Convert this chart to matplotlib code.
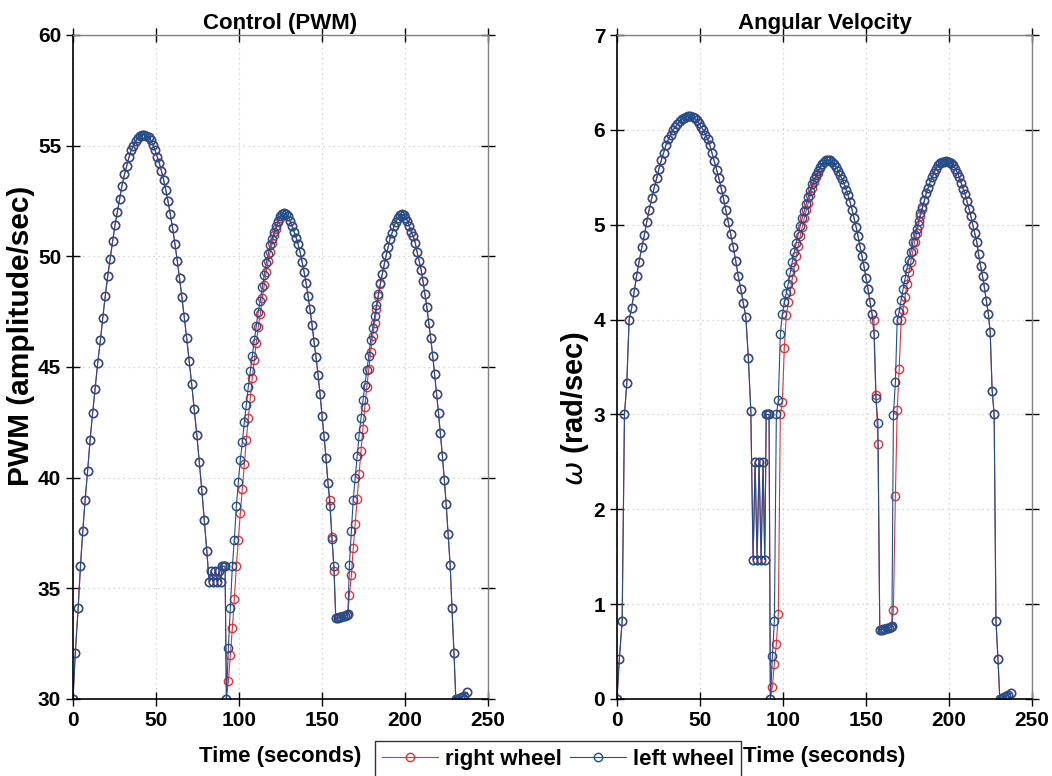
import matplotlib
matplotlib.use("Agg")
from matplotlib import pyplot as plt

plt.rcParams['font.family'] = ['Liberation Sans', 'DejaVu Sans']

# ---- arch 1 (both wheels identical) ----
t_arch1 = [0.0, 1.4, 3.1, 4.5, 5.9, 7.3, 8.8, 10.3, 11.8, 13.3, 14.9, 16.5, 17.9, 19.4, 20.9,
           22.4, 23.9, 25.3, 26.7, 28.1, 29.5, 31.0, 32.4, 33.8, 35.1, 36.4, 37.7, 39.0, 40.3,
           41.6, 42.9, 44.2, 45.5, 46.8, 48.1, 49.4, 50.7, 52.0, 53.3, 54.6, 55.9, 57.2, 58.6,
           60.0, 61.4, 62.8, 64.2, 65.6, 67.0, 68.5, 70.0, 71.5, 73.0, 74.6, 76.1, 77.6, 79.1, 80.6]
pwm_arch1 = [30.0, 32.1, 34.1, 36.0, 37.6, 39.0, 40.3, 41.7, 42.9, 44.0, 45.2, 46.2, 47.2, 48.2,
             49.1, 49.9, 50.7, 51.4, 52.0, 52.6, 53.2, 53.7, 54.1, 54.5, 54.8, 55.0, 55.2, 55.35,
             55.45, 55.5, 55.5, 55.45, 55.4, 55.25, 55.05, 54.8, 54.5, 54.2, 53.85, 53.45, 53.0,
             52.5, 51.9, 51.27, 50.56, 49.8, 49.0, 48.15, 47.25, 46.3, 45.27, 44.22, 43.09, 41.93,
             40.7, 39.44, 38.1, 36.7]
w_arch1 = [0.0, 0.42, 0.82, 3.0, 3.33, 4.0, 4.12, 4.29, 4.46, 4.61, 4.76, 4.89, 5.03, 5.16, 5.28,
           5.39, 5.49, 5.59, 5.68, 5.76, 5.84, 5.9, 5.95, 6.0, 6.03, 6.06, 6.09, 6.11, 6.13, 6.14,
           6.15, 6.15, 6.14, 6.12, 6.1, 6.07, 6.03, 6.0, 5.95, 5.9, 5.84, 5.76, 5.67, 5.58, 5.49,
           5.38, 5.27, 5.15, 5.03, 4.9, 4.77, 4.62, 4.46, 4.32, 4.17, 4.03, 3.6, 3.04]

# ---- first stall ----
t_dip1 = [82.0, 83.2, 84.4, 85.6, 86.8, 88.0, 89.0, 89.9, 90.8, 91.6]
pwm_dip1 = [35.3, 35.8, 35.3, 35.8, 35.3, 35.8, 35.3, 36.0, 36.0, 36.0]
w_dip1 = [1.47, 2.5, 1.47, 2.5, 1.47, 2.5, 1.47, 3.0, 3.0, 3.0]

# ---- arch 2 rising ----
t_up2 = [92.4, 93.6, 94.8, 96.0, 97.2, 98.4, 99.6, 100.8, 102.0, 103.2, 104.4, 105.6, 106.8,
         108.0, 109.2, 110.4, 111.6, 112.8, 114.0, 115.2, 116.4, 117.6, 118.8, 120.0, 121.2,
         122.4, 123.6, 124.8, 126.0, 127.2]
pwm_up2_left = [30.0, 32.3, 34.1, 36.0, 37.2, 38.7, 39.8, 40.8, 41.6, 42.5, 43.3, 44.1, 44.8,
                45.5, 46.2, 46.85, 47.5, 48.0, 48.6, 49.15, 49.7, 50.1, 50.5, 50.8, 51.1, 51.35,
                51.6, 51.8, 51.9, 51.95]
pwm_up2_right = [30.0, 30.8, 32.0, 33.2, 34.5, 36.0, 37.2, 38.4, 39.5, 40.6, 41.7, 42.7, 43.6,
                 44.5, 45.3, 46.1, 46.8, 47.4, 48.1, 48.7, 49.3, 49.8, 50.2, 50.6, 50.95, 51.25,
                 51.55, 51.75, 51.9, 51.95]
w_up2_left = [0.0, 0.45, 0.82, 3.0, 3.15, 3.85, 4.06, 4.18, 4.28, 4.38, 4.5, 4.61, 4.71, 4.81,
              4.9, 4.99, 5.07, 5.14, 5.22, 5.29, 5.36, 5.43, 5.48, 5.52, 5.57, 5.61, 5.64, 5.66,
              5.68, 5.68]
w_up2_right = [0.0, 0.13, 0.37, 0.58, 0.9, 3.0, 3.13, 3.7, 4.05, 4.18, 4.3, 4.43, 4.55, 4.67,
               4.78, 4.88, 4.98, 5.07, 5.15, 5.23, 5.31, 5.39, 5.45, 5.5, 5.55, 5.6, 5.64, 5.66,
               5.68, 5.68]

# ---- arch 2 falling ----
t_down2 = [128.4, 129.6, 130.8, 132.0, 133.2, 134.4, 135.6, 136.8, 138.0, 139.2, 140.4, 141.6,
           142.8, 144.0, 145.2, 146.4, 147.6, 148.8, 150.0, 151.2, 152.4, 153.6, 154.8, 156.0, 157.2]
pwm_down2_left = [51.9, 51.8, 51.6, 51.35, 51.1, 50.85, 50.55, 50.2, 49.75, 49.3, 48.8, 48.2,
                  47.6, 46.9, 46.15, 45.45, 44.65, 43.8, 42.8, 41.9, 40.9, 39.75, 38.7, 37.25, 36.0]
pwm_down2_right = [51.9, 51.8, 51.6, 51.35, 51.1, 50.85, 50.55, 50.2, 49.75, 49.3, 48.8, 48.2,
                   47.6, 46.9, 46.15, 45.45, 44.65, 43.8, 42.8, 41.9, 40.9, 39.75, 39.0, 37.3, 35.8]
w_down2_left = [5.68, 5.66, 5.64, 5.61, 5.57, 5.52, 5.48, 5.43, 5.37, 5.31, 5.24, 5.16, 5.07,
                4.98, 4.88, 4.77, 4.67, 4.56, 4.44, 4.32, 4.19, 4.06, 3.85, 3.17, 2.91]
w_down2_right = [5.68, 5.66, 5.64, 5.61, 5.57, 5.52, 5.48, 5.43, 5.37, 5.31, 5.24, 5.16, 5.07,
                 4.98, 4.88, 4.77, 4.67, 4.56, 4.44, 4.32, 4.19, 4.06, 4.0, 3.2, 2.69]

# ---- second stall ----
t_dip2 = [158.3, 159.4, 160.5, 161.6, 162.7, 163.8, 164.9, 165.6]
pwm_dip2 = [33.65, 33.65, 33.7, 33.7, 33.75, 33.75, 33.8, 33.85]
w_dip2 = [0.73, 0.73, 0.74, 0.74, 0.75, 0.75, 0.76, 0.77]

# ---- arch 3 rising ----
t_up3 = [166.5, 167.7, 168.8, 170.0, 171.2, 172.3, 173.5, 174.7, 175.8, 177.0, 178.2, 179.3,
         180.5, 181.7, 182.8, 184.0, 185.2, 186.3, 187.5, 188.7, 189.8, 191.0, 192.2, 193.3,
         194.5, 195.7, 196.8, 198.0]
pwm_up3_left = [36.05, 37.6, 39.0, 40.0, 41.0, 41.9, 42.7, 43.5, 44.2, 44.85, 45.5, 46.2, 46.75,
                47.3, 47.8, 48.3, 48.8, 49.2, 49.65, 50.05, 50.4, 50.8, 51.05, 51.35, 51.55,
                51.75, 51.85, 51.9]
pwm_up3_right = [34.7, 35.6, 36.8, 37.9, 39.05, 40.15, 41.2, 42.2, 43.2, 44.1, 44.9, 45.7, 46.4,
                 47.0, 47.6, 48.2, 48.75, 49.2, 49.65, 50.05, 50.4, 50.8, 51.05, 51.35, 51.55,
                 51.75, 51.85, 51.9]
w_up3_left = [2.99, 3.34, 4.0, 4.08, 4.21, 4.32, 4.43, 4.54, 4.63, 4.71, 4.82, 4.89, 4.96, 5.04,
              5.12, 5.19, 5.26, 5.33, 5.39, 5.45, 5.5, 5.55, 5.59, 5.63, 5.65, 5.66, 5.665, 5.67]
w_up3_right = [0.94, 2.14, 3.05, 3.48, 4.0, 4.1, 4.24, 4.37, 4.5, 4.61, 4.72, 4.82, 4.91, 5.0,
               5.09, 5.17, 5.25, 5.33, 5.39, 5.45, 5.5, 5.55, 5.59, 5.63, 5.65, 5.66, 5.665, 5.67]

# ---- arch 3 falling ----
t_down3 = [199.2, 200.3, 201.5, 202.7, 203.8, 205.0, 206.2, 207.3, 208.5, 209.7, 210.8, 212.0,
           213.2, 214.3, 215.5, 216.7, 217.8, 219.0, 220.2, 221.3, 222.5, 223.7, 224.8, 226.0,
           227.2, 228.3, 229.5]
pwm_down3 = [51.85, 51.75, 51.6, 51.35, 51.1, 50.9, 50.6, 50.2, 49.8, 49.4, 48.9, 48.3, 47.7,
             47.0, 46.3, 45.5, 44.7, 43.8, 42.9, 42.0, 41.0, 39.9, 38.8, 37.45, 36.05, 34.1, 32.1]
w_down3 = [5.665, 5.66, 5.65, 5.63, 5.59, 5.55, 5.5, 5.44, 5.38, 5.32, 5.25, 5.17, 5.09, 5.0,
           4.91, 4.82, 4.69, 4.57, 4.46, 4.34, 4.2, 4.06, 3.87, 3.25, 3.0, 0.82, 0.42]

# ---- stopped ----
t_end = [230.6, 231.8, 233.0, 234.3, 235.7, 237.4]
pwm_end = [30.0, 30.02, 30.05, 30.1, 30.15, 30.3]
w_end = [0.0, 0.01, 0.02, 0.03, 0.04, 0.06]

time = t_arch1 + t_dip1 + t_up2 + t_down2 + t_dip2 + t_up3 + t_down3 + t_end
pwm_right = (pwm_arch1 + pwm_dip1 + pwm_up2_right + pwm_down2_right + pwm_dip2
             + pwm_up3_right + pwm_down3 + pwm_end)
pwm_left = (pwm_arch1 + pwm_dip1 + pwm_up2_left + pwm_down2_left + pwm_dip2
            + pwm_up3_left + pwm_down3 + pwm_end)
w_right = (w_arch1 + w_dip1 + w_up2_right + w_down2_right + w_dip2
           + w_up3_right + w_down3 + w_end)
w_left = (w_arch1 + w_dip1 + w_up2_left + w_down2_left + w_dip2
          + w_up3_left + w_down3 + w_end)

red = "#d9363b"
blue = "#1f4f8f"

fig = plt.figure(figsize=(10.52, 7.76), dpi=100)
ax1 = fig.add_axes([73 / 1052, 77 / 776, 415 / 1052, 664 / 776])
ax2 = fig.add_axes([617 / 1052, 77 / 776, 415 / 1052, 664 / 776])


def style_axis(ax):
    ax.grid(True, linestyle=(0, (1, 3)), color="#c8c8c8", linewidth=0.9)
    ax.set_axisbelow(True)
    for side in ["left", "bottom"]:
        ax.spines[side].set_color("black")
        ax.spines[side].set_linewidth(1.2)
    for side in ["top", "right"]:
        ax.spines[side].set_color("#808080")
        ax.spines[side].set_linewidth(1.0)
    ax.tick_params(direction="inout", length=10, width=1.0, labelsize=15,
                   top=True, right=True, colors="black")
    for lab in ax.get_xticklabels() + ax.get_yticklabels():
        lab.set_fontweight("bold")
    ax.set_xlim(0, 250)
    ax.set_xticks([0, 50, 100, 150, 200, 250])
    ax.set_xlabel("Time (seconds)", fontsize=16, fontweight="bold", labelpad=12)


line_kw = dict(marker="o", markerfacecolor="none", markersize=6, markeredgewidth=1.0, linewidth=0.8)

ax1.plot(time, pwm_right, color=red, label="right wheel", **line_kw)
ax1.plot(time, pwm_left, color=blue, label="left wheel", **line_kw)
ax1.set_ylim(30, 60)
ax1.set_yticks([30, 35, 40, 45, 50, 55, 60])
ax1.set_title("Control (PWM)", fontsize=16, fontweight="bold", pad=4)
style_axis(ax1)

ax2.plot(time, w_right, color=red, **line_kw)
ax2.plot(time, w_left, color=blue, **line_kw)
ax2.set_ylim(0, 7)
ax2.set_yticks([0, 1, 2, 3, 4, 5, 6, 7])
ax2.set_title("Angular Velocity", fontsize=16, fontweight="bold", pad=4)
style_axis(ax2)

# y labels start at the same height in both panels
fig.text(21 / 1052, 1 - 486 / 776, "PWM (amplitude/sec)", rotation=90, ha="center", va="bottom",
         fontsize=21.5, fontweight="bold")
fig.text(575 / 1052, 1 - 486 / 776, r"$\omega$ (rad/sec)", rotation=90, ha="center", va="bottom",
         fontsize=21, fontweight="bold")

handles, labels = ax1.get_legend_handles_labels()
leg = fig.legend(handles, labels, loc="upper center", bbox_to_anchor=(558 / 1052, 1 - 741 / 776),
                 ncol=2, frameon=True, fancybox=False, framealpha=1, borderaxespad=0,
                 edgecolor="#333333", handlelength=2.5, columnspacing=0.4, borderpad=0.35,
                 handletextpad=0.3, prop={"weight": "bold", "size": 16})
leg.get_frame().set_linewidth(1.0)

fig.savefig("out.png", dpi=100)
